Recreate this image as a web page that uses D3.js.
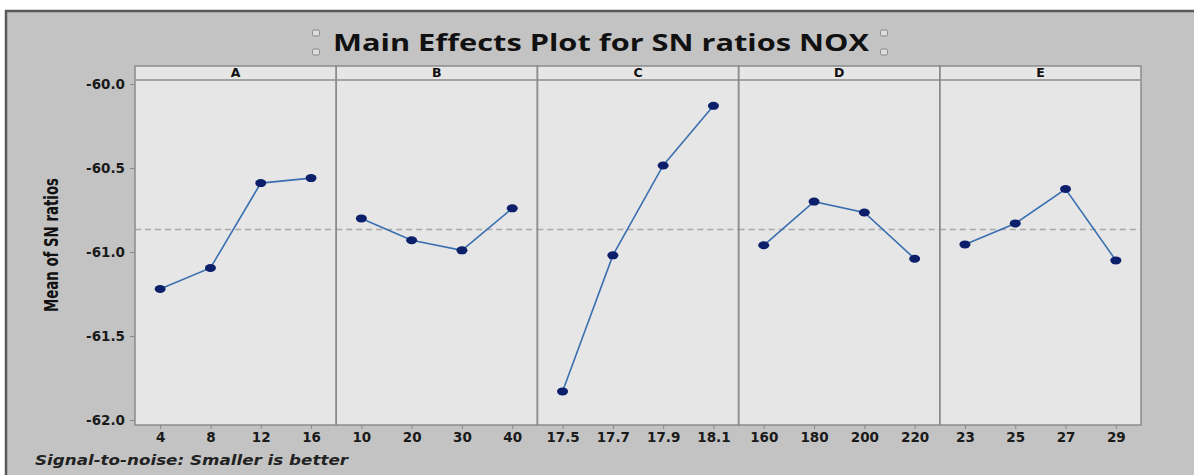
<!DOCTYPE html>
<html>
<head>
<meta charset="utf-8">
<script src="https://cdn.jsdelivr.net/npm/d3@7"></script>
<style>
  body { margin: 0; background: #fff; }
  svg { display: block; }
  .tick text { font-family: "DejaVu Sans", sans-serif; font-weight: 700; font-size: 13.5px; fill: #1a1a1a; }
</style>
</head>
<body>
<div id="chart"></div>
<script>
// main effects for SN ratios (smaller is better)
const factors = ["A", "B", "C", "D", "E"];
const levelsA = ["4", "8", "12", "16"];
const levelsB = ["10", "20", "30", "40"];
const levelsC = ["17.5", "17.7", "17.9", "18.1"];
const levelsD = ["160", "180", "200", "220"];
const levelsE = ["23", "25", "27", "29"];
const snA = [-61.22, -61.095, -60.59, -60.56];
const snB = [-60.80, -60.93, -60.99, -60.74];
const snC = [-61.83, -61.02, -60.485, -60.13];
const snD = [-60.96, -60.70, -60.765, -61.04];
const snE = [-60.955, -60.83, -60.625, -61.05];
const yTicks = [-60.0, -60.5, -61.0, -61.5, -62.0];

const levels = [levelsA, levelsB, levelsC, levelsD, levelsE];
const values = [snA, snB, snC, snD, snE];

const width = 1194, height = 475;
const plotLeft = 135, plotRight = 1141, stripTop = 66, stripBottom = 80, plotBottom = 425;
const panelW = (plotRight - plotLeft) / factors.length;

const svg = d3.select("#chart").append("svg")
  .attr("width", width)
  .attr("height", height);

// frame
svg.append("rect")
  .attr("x", 5).attr("y", 10)
  .attr("width", width - 5).attr("height", height - 10)
  .attr("fill", "#c3c3c3");
svg.append("path")
  .attr("d", `M6,${height} V11 H${width}`)
  .attr("fill", "none")
  .attr("stroke", "#5a5a5a")
  .attr("stroke-width", 2.5);

// title + handles
svg.append("text")
  .attr("x", 601).attr("y", 51)
  .attr("text-anchor", "middle")
  .attr("textLength", 536)
  .attr("lengthAdjust", "spacingAndGlyphs")
  .style("font-family", "'Open Sans', 'DejaVu Sans', sans-serif")
  .style("font-weight", 700)
  .style("font-size", "24px")
  .attr("fill", "#111")
  .text("Main Effects Plot for SN ratios NOX");

[[316, 33], [316, 52], [884, 33], [884, 52]].forEach(([hx, hy]) => {
  svg.append("rect")
    .attr("x", hx - 3.5).attr("y", hy - 3)
    .attr("width", 7).attr("height", 6)
    .attr("rx", 1.5)
    .attr("fill", "#ddd")
    .attr("stroke", "#888")
    .attr("stroke-width", 1);
});

const y = d3.scaleLinear().domain([-62, -60]).range([420, 84]);

// y axis
const yAxis = svg.append("g")
  .attr("transform", `translate(${plotLeft},0)`)
  .call(d3.axisLeft(y).tickValues(yTicks).tickSize(5).tickPadding(5).tickFormat(d => d.toFixed(1)));
yAxis.select(".domain").remove();
yAxis.selectAll(".tick line").attr("stroke", "#888");

svg.append("text")
  .attr("transform", "translate(58,245) rotate(-90)")
  .attr("text-anchor", "middle")
  .attr("textLength", 134)
  .attr("lengthAdjust", "spacingAndGlyphs")
  .style("font-family", "'Liberation Sans Narrow', 'DejaVu Sans Condensed', sans-serif")
  .style("font-weight", 700)
  .style("font-size", "20px")
  .attr("fill", "#111")
  .text("Mean of SN ratios");

const allValues = values.flat();
const grandMean = d3.mean(allValues);

const line = d3.line()
  .x(d => d.x)
  .y(d => y(d.v));

factors.forEach((f, i) => {
  const x0 = plotLeft + i * panelW;
  const x = d3.scalePoint().domain(levels[i]).range([x0, x0 + panelW]).padding(0.5);

  const g = svg.append("g");

  g.append("rect")
    .attr("x", x0).attr("y", stripTop)
    .attr("width", panelW).attr("height", plotBottom - stripTop)
    .attr("fill", "#e6e6e6");

  g.append("text")
    .attr("x", x0 + panelW / 2).attr("y", stripBottom - 3)
    .attr("text-anchor", "middle")
    .style("font-family", "'DejaVu Sans', sans-serif")
    .style("font-weight", 700)
    .style("font-size", "12.5px")
    .attr("fill", "#111")
    .text(f);

  const xAxis = g.append("g")
    .attr("transform", `translate(0,${plotBottom})`)
    .call(d3.axisBottom(x).tickSize(4).tickPadding(3));
  xAxis.select(".domain").remove();
  xAxis.selectAll(".tick line").attr("stroke", "#888");

  // grand mean reference
  g.append("line")
    .attr("x1", x0).attr("x2", x0 + panelW)
    .attr("y1", y(grandMean)).attr("y2", y(grandMean))
    .attr("stroke", "#a9a9a9")
    .attr("stroke-width", 1.5)
    .attr("stroke-dasharray", "6,4");

  const pts = levels[i].map((lv, j) => ({ x: x(lv), v: values[i][j] }));

  g.append("path")
    .datum(pts)
    .attr("d", line)
    .attr("fill", "none")
    .attr("stroke", "#3a6fb0")
    .attr("stroke-width", 1.6);

  g.selectAll("ellipse").data(pts).enter().append("ellipse")
    .attr("cx", d => d.x)
    .attr("cy", d => y(d.v))
    .attr("rx", 5.5)
    .attr("ry", 4)
    .attr("fill", "#0b1f6a");
});

// panel borders
svg.append("line")
  .attr("x1", plotLeft).attr("x2", plotRight)
  .attr("y1", stripBottom).attr("y2", stripBottom)
  .attr("stroke", "#8c8c8c").attr("stroke-width", 1.5);
factors.forEach((f, i) => {
  svg.append("rect")
    .attr("x", plotLeft + i * panelW).attr("y", stripTop)
    .attr("width", panelW).attr("height", plotBottom - stripTop)
    .attr("fill", "none")
    .attr("stroke", "#8c8c8c")
    .attr("stroke-width", 1.5);
});

svg.append("text")
  .attr("x", 35).attr("y", 465)
  .attr("textLength", 313)
  .attr("lengthAdjust", "spacingAndGlyphs")
  .style("font-family", "'DejaVu Sans', sans-serif")
  .style("font-weight", 700)
  .style("font-style", "italic")
  .style("font-size", "14px")
  .attr("fill", "#222")
  .text("Signal-to-noise: Smaller is better");
</script>
</body>
</html>
